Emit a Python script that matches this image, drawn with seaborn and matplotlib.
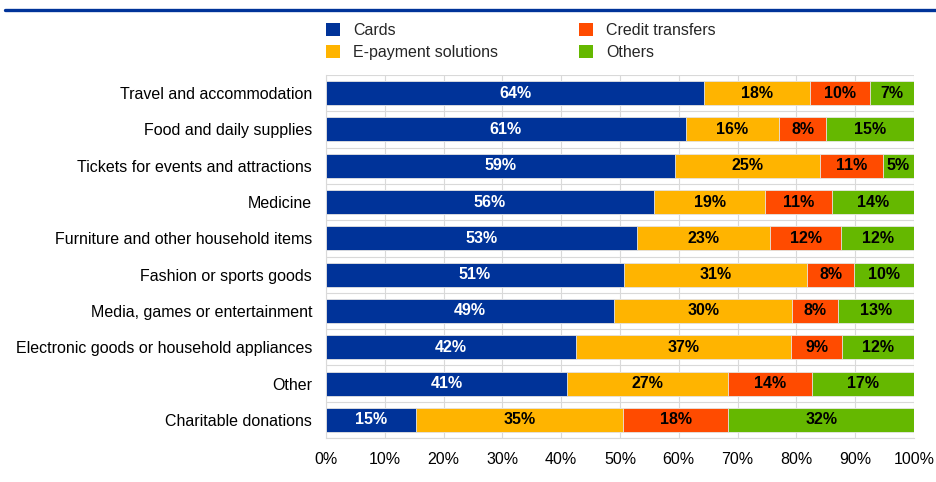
import numpy as np
import pandas as pd
import matplotlib
matplotlib.use("Agg")
import matplotlib.pyplot as plt
from matplotlib.patches import Patch
from matplotlib.lines import Line2D
import seaborn as sns

# ── Data (shares in %) ───────────────────────────────────────────────────────
categories = [
    "Travel and accommodation",
    "Food and daily supplies",
    "Tickets for events and attractions",
    "Medicine",
    "Furniture and other household items",
    "Fashion or sports goods",
    "Media, games or entertainment",
    "Electronic goods or household appliances",
    "Other",
    "Charitable donations",
]
cards = [64.3, 61.2, 59.4, 55.8, 52.9, 50.7, 49.0, 42.5, 41.0, 15.3]
epay = [18.0, 15.8, 24.6, 18.9, 22.6, 31.1, 30.3, 36.6, 27.4, 35.2]
credit = [10.3, 8.1, 10.7, 11.4, 12.1, 8.0, 7.8, 8.7, 14.2, 17.9]
others = [7.4, 14.9, 5.3, 13.9, 12.4, 10.2, 12.9, 12.2, 17.4, 31.6]

series = ["Cards", "E-payment solutions", "Credit transfers", "Others"]
colors = {"Cards": "#003399", "E-payment solutions": "#FFB400",
          "Credit transfers": "#FF4B00", "Others": "#65B800"}
text_colors = {"Cards": "white", "E-payment solutions": "black",
               "Credit transfers": "black", "Others": "black"}

df = pd.DataFrame({"category": categories, "Cards": cards,
                   "E-payment solutions": epay, "Credit transfers": credit,
                   "Others": others})
cum = df[series].cumsum(axis=1)

sns.set_style("white")
plt.rcParams["font.family"] = ["Liberation Sans", "DejaVu Sans"]
FS = 11.5

fig = plt.figure(figsize=(9.36, 4.82), dpi=100)
ax = fig.add_axes([326 / 936, 1 - 438 / 482, 588 / 936, 363 / 482])

# stacked bars: draw cumulative totals, longest first
for s in reversed(series):
    sns.barplot(x=cum[s], y=df["category"], orient="h", color=colors[s],
                width=0.66, edgecolor="#E6E6E6", linewidth=0.6,
                saturation=1, ax=ax, zorder=3)

# segment labels
for i, row in df.iterrows():
    left = 0
    for s in series:
        v = row[s]
        ax.text(left + v / 2, i, f"{v:.0f}%", ha="center", va="center",
                fontsize=11.5, fontweight="bold", color=text_colors[s],
                zorder=5)
        left += v

ax.set_xlim(0, 100)
ax.set_ylim(len(categories) - 0.5, -0.5)
ax.set_xticks(np.arange(0, 101, 10))
ax.set_xticklabels([f"{t}%" for t in range(0, 101, 10)])
ax.set_xlabel("")
ax.set_ylabel("")
ax.set_yticks(range(len(categories)))
ax.set_yticks(np.arange(-0.5, len(categories), 1), minor=True)
ax.tick_params(axis="both", which="both", length=0, labelsize=FS,
               colors="black")
ax.tick_params(axis="y", pad=10)
ax.tick_params(axis="x", pad=10)
ax.grid(axis="x", color="#D9D9D9", linewidth=0.8, zorder=0)
ax.grid(axis="y", which="minor", color="#D9D9D9", linewidth=0.8, zorder=0)
ax.grid(axis="y", which="major", visible=False)
for side in ["top", "right"]:
    ax.spines[side].set_visible(False)
for side in ["left", "bottom"]:
    ax.spines[side].set_color("#D9D9D9")
ax.set_axisbelow(True)

# legend
handles = [Patch(facecolor=colors[s], edgecolor="none", label=s) for s in series]
fig.legend(handles=handles, ncol=2, loc="upper left",
           bbox_to_anchor=(326 / 936, 1 - 23 / 482), frameon=False,
           fontsize=FS, handlelength=0.88, handleheight=0.88,
           handletextpad=0.8, columnspacing=5.1, labelspacing=0.45,
           borderpad=0, borderaxespad=0)

# top rule
fig.add_artist(Line2D([5 / 936, 1], [1 - 10 / 482] * 2, color="#003399",
                      linewidth=2.4, transform=fig.transFigure))

fig.savefig("out.png", dpi=100, facecolor="white")
